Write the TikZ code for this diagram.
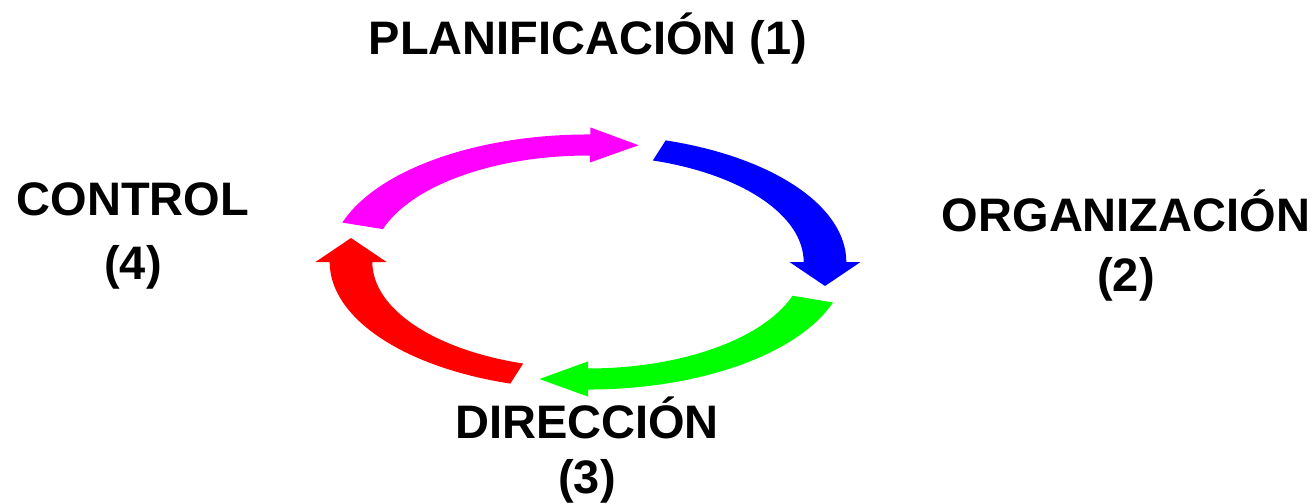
\documentclass[tikz,border=0pt]{standalone}
\usepackage{fontspec}
\setmainfont{Liberation Sans}
\definecolor{cmag}{RGB}{255,0,255}
\definecolor{cblue}{RGB}{0,0,255}
\definecolor{cgreen}{RGB}{0,255,0}
\definecolor{cred}{RGB}{255,0,0}
% #1 colour, #2 tail angle, #3 head angle (clockwise arrow in unit-circle space)
\newcommand{\cycarrow}[3]{%
  \fill[#1] (#2:1.09) arc[start angle=#2, end angle=#3, radius=1.09]
    -- (#3:1.15)
    -- ({cos(#3)+0.205*sin(#3)},{sin(#3)-0.205*cos(#3)})
    -- (#3:0.85) -- (#3:0.91)
    arc[start angle=#3, end angle=#2, radius=0.91] -- cycle;}
\begin{document}
\begin{tikzpicture}[x=0.5pt,y=-0.5pt,
  lbl/.style={font=\bfseries\fontsize{23.5}{30}\selectfont, align=center, inner sep=0pt, anchor=base}]
\useasboundingbox (0,0) rectangle (1315,503);
\begin{scope}[shift={(588,262)}, xscale=237, yscale=-117]
  \cycarrow{cmag}{162}{89.5}
  \cycarrow{cblue}{72.5}{0}
  \cycarrow{cgreen}{-18.5}{-90}
  \cycarrow{cred}{-107.5}{-180}
\end{scope}
\node[lbl] (plan) at (588,54) {PLANIFICACIÓN (1)};
\node[lbl, font=\bfseries\fontsize{23.5}{32}\selectfont] (ctrl) at (133,279) {CONTROL\\(4)};
\node[lbl] (org) at (1126,291.7) {ORGANIZACIÓN\\(2)};
\node[lbl, font=\bfseries\fontsize{23.5}{27.5}\selectfont] (dir) at (587,493) {DIRECCIÓN\\(3)};
\end{tikzpicture}
\end{document}
